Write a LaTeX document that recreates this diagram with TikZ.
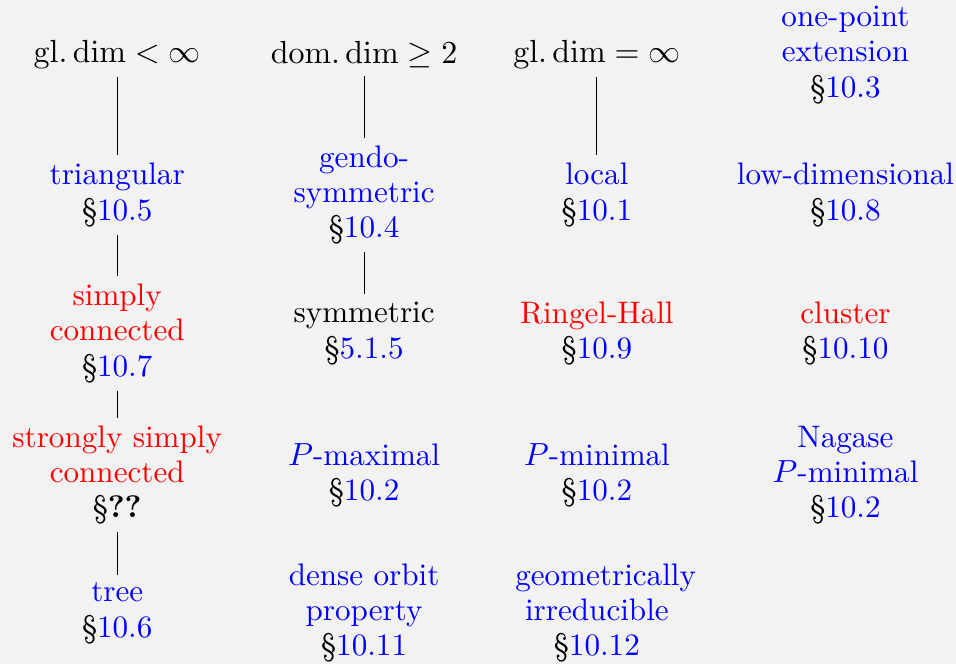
\documentclass[tikz,border=0pt]{standalone}
\usepackage{amsmath,amssymb}
\usepackage{xcolor}
\usepackage{tikz}
\usetikzlibrary{positioning,backgrounds}
\definecolor{bggray}{RGB}{242,242,242}
\newcommand{\gldim}{$\mathrm{gl.}\dim$}
\newcommand{\domdim}{$\mathrm{dom.}\dim$}
\newcommand{\secref}[1]{\textcolor{black}{\S}\textcolor{blue}{#1}}

\begin{document}
\begin{tikzpicture}[
  every node/.style={font=\fontsize{10.65}{12.1}\selectfont, inner sep=2.5pt},
  cls/.style={align=center, text=blue},
  hot/.style={align=center, text=red},
  plain/.style={align=center, text=black}]
  % background and size
  \fill[bggray] (0,0) rectangle (11.5,-7.99);
  \useasboundingbox (0,0) rectangle (11.5,-7.99);
  % column 1
  \node[plain] (glfin) at (1.41,-0.66) {\gldim${}<\infty$};
  \node[cls] (tri) at (1.41,-2.345) {triangular\\\secref{10.5}};
  \node[hot] (sc) at (1.41,-4.012) {simply\\connected\\\secref{10.7}};
  \node[hot] (ssc) at (1.41,-5.715) {strongly simply\\connected\\{\color{black}\S\textbf{??}}};
  \node[cls] (tree) at (1.41,-7.375) {tree\\\secref{10.6}};
  % column 2
  \node[plain] (dom) at (4.38,-0.66) {\domdim${}\geq 2$};
  \node[cls] (gendo) at (4.38,-2.345) {gendo-\\symmetric\\\secref{10.4}};
  \node[plain] (sym) at (4.38,-4.012) {symmetric\\\secref{5.1.5}};
  \node[cls] (pmax) at (4.38,-5.715) {$P$-maximal\\\secref{10.2}};
  \node[cls] (dense) at (4.38,-7.375) {dense orbit\\property\\\secref{10.11}};
  % column 3
  \node[plain] (glinf) at (7.18,-0.66) {\gldim${}=\infty$};
  \node[cls] (loc) at (7.18,-2.345) {local\\\secref{10.1}};
  \node[hot] (rh) at (7.18,-4.012) {Ringel-Hall\\\secref{10.9}};
  \node[cls] (pmin) at (7.18,-5.715) {$P$-minimal\\\secref{10.2}};
  \node[cls] (geo) at (7.18,-7.375) {\hspace*{6pt}geometrically\\irreducible\\\secref{10.12}};
  % column 4
  \node[cls] (opext) at (10.17,-0.66) {one-point\\extension\\\secref{10.3}};
  \node[cls] (lowdim) at (10.17,-2.345) {low-dimensional\\\secref{10.8}};
  \node[hot] (clu) at (10.17,-4.012) {cluster\\\secref{10.10}};
  \node[cls] (nag) at (10.17,-5.715) {Nagase\\$P$-minimal\\\secref{10.2}};
  % edges
  \draw (glfin) -- (tri);
  \draw (tri) -- (sc);
  \draw (sc) -- (ssc);
  \draw (ssc) -- (tree);
  \draw (dom) -- (gendo);
  \draw (gendo) -- (sym);
  \draw (glinf) -- (loc);
\end{tikzpicture}
\end{document}
